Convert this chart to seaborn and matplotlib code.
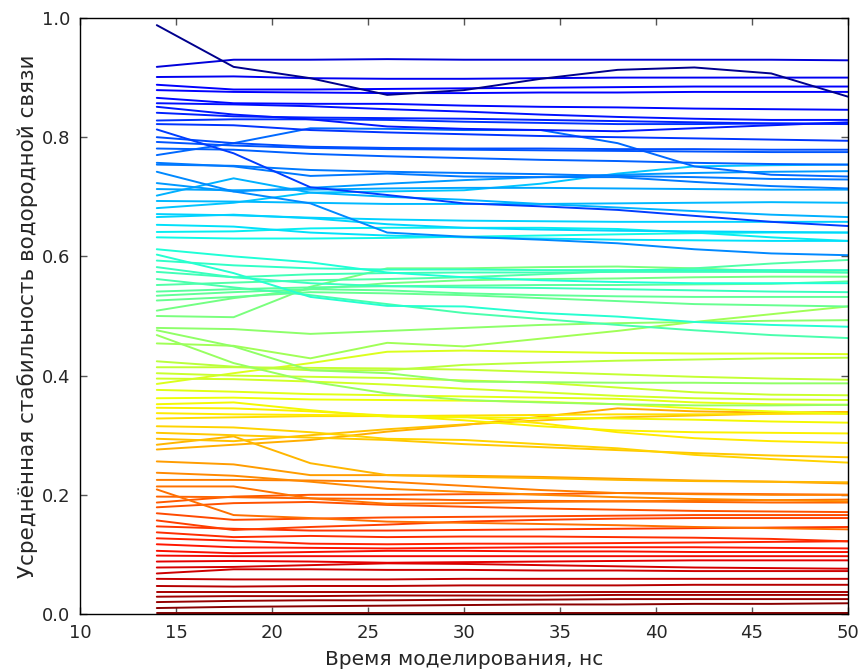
import numpy as np
import pandas as pd
import matplotlib
matplotlib.use("Agg")
import matplotlib.pyplot as plt
import seaborn as sns

# Simulation time points, ns
times = [14, 18, 22, 26, 30, 34, 38, 42, 46, 50]

# Averaged hydrogen-bond stability per bond, grouped by stability level
blue_lines = [
    [0.988, 0.918, 0.899, 0.871, 0.879, 0.898, 0.913, 0.917, 0.907, 0.868],
    [0.918, 0.930, 0.930, 0.931, 0.930, 0.930, 0.930, 0.930, 0.930, 0.929],
    [0.901, 0.902, 0.899, 0.898, 0.898, 0.899, 0.900, 0.900, 0.900, 0.900],
    [0.888, 0.880, 0.880, 0.881, 0.882, 0.883, 0.884, 0.885, 0.885, 0.885],
    [0.879, 0.876, 0.875, 0.874, 0.874, 0.875, 0.875, 0.876, 0.876, 0.876],
    [0.866, 0.857, 0.856, 0.856, 0.853, 0.851, 0.850, 0.848, 0.847, 0.846],
    [0.857, 0.855, 0.852, 0.847, 0.843, 0.838, 0.834, 0.831, 0.829, 0.829],
    [0.851, 0.838, 0.830, 0.818, 0.814, 0.812, 0.810, 0.815, 0.820, 0.825],
    [0.841, 0.835, 0.833, 0.832, 0.831, 0.829, 0.827, 0.825, 0.823, 0.822],
    [0.828, 0.830, 0.830, 0.829, 0.826, 0.824, 0.822, 0.822, 0.823, 0.823],
    [0.822, 0.820, 0.812, 0.808, 0.805, 0.802, 0.800, 0.798, 0.796, 0.794],
    [0.813, 0.773, 0.716, 0.703, 0.689, 0.684, 0.678, 0.668, 0.658, 0.651],
    [0.800, 0.790, 0.784, 0.782, 0.781, 0.781, 0.780, 0.780, 0.779, 0.779],
    [0.792, 0.786, 0.782, 0.780, 0.779, 0.778, 0.777, 0.776, 0.775, 0.775],
    [0.781, 0.779, 0.772, 0.768, 0.765, 0.762, 0.760, 0.757, 0.755, 0.754],
    [0.770, 0.790, 0.815, 0.814, 0.812, 0.812, 0.790, 0.751, 0.737, 0.734],
    [0.757, 0.751, 0.735, 0.739, 0.734, 0.733, 0.733, 0.725, 0.718, 0.714],
    [0.754, 0.752, 0.745, 0.742, 0.740, 0.738, 0.735, 0.733, 0.730, 0.729],
    [0.742, 0.709, 0.689, 0.640, 0.633, 0.628, 0.622, 0.612, 0.605, 0.602],
]

cyan_lines = [
    [0.723, 0.709, 0.715, 0.722, 0.728, 0.733, 0.737, 0.740, 0.742, 0.743],
    [0.713, 0.711, 0.712, 0.714, 0.715, 0.715, 0.714, 0.713, 0.712, 0.712],
    [0.702, 0.731, 0.707, 0.700, 0.695, 0.688, 0.682, 0.676, 0.670, 0.666],
    [0.693, 0.692, 0.690, 0.688, 0.688, 0.688, 0.689, 0.690, 0.691, 0.690],
    [0.681, 0.690, 0.707, 0.709, 0.711, 0.722, 0.739, 0.751, 0.753, 0.754],
    [0.671, 0.669, 0.665, 0.662, 0.660, 0.659, 0.658, 0.658, 0.658, 0.658],
    [0.666, 0.670, 0.664, 0.654, 0.648, 0.645, 0.643, 0.642, 0.641, 0.640],
    [0.653, 0.650, 0.640, 0.635, 0.632, 0.630, 0.628, 0.627, 0.626, 0.626],
    [0.641, 0.642, 0.647, 0.648, 0.648, 0.648, 0.646, 0.640, 0.632, 0.626],
    [0.632, 0.630, 0.630, 0.631, 0.633, 0.635, 0.637, 0.639, 0.640, 0.640],
]

teal_lines = [
    [0.612, 0.600, 0.590, 0.573, 0.565, 0.560, 0.557, 0.555, 0.555, 0.555],
    [0.603, 0.572, 0.532, 0.517, 0.516, 0.505, 0.499, 0.490, 0.485, 0.482],
    [0.593, 0.585, 0.580, 0.578, 0.578, 0.577, 0.577, 0.577, 0.577, 0.577],
    [0.582, 0.565, 0.555, 0.550, 0.548, 0.547, 0.545, 0.543, 0.541, 0.540],
    [0.574, 0.565, 0.570, 0.572, 0.573, 0.573, 0.574, 0.574, 0.574, 0.573],
    [0.562, 0.548, 0.535, 0.520, 0.505, 0.495, 0.485, 0.476, 0.468, 0.463],
    [0.552, 0.556, 0.560, 0.562, 0.565, 0.570, 0.575, 0.580, 0.588, 0.594],
    [0.541, 0.545, 0.548, 0.550, 0.551, 0.552, 0.552, 0.553, 0.554, 0.558],
    [0.534, 0.540, 0.545, 0.543, 0.538, 0.535, 0.533, 0.532, 0.532, 0.532],
    [0.526, 0.532, 0.540, 0.538, 0.535, 0.530, 0.525, 0.520, 0.518, 0.516],
    [0.509, 0.530, 0.545, 0.555, 0.560, 0.562, 0.563, 0.565, 0.566, 0.566],
    [0.500, 0.498, 0.549, 0.580, 0.580, 0.582, 0.583, 0.580, 0.575, 0.573],
]

green_lines = [
    [0.480, 0.478, 0.470, 0.475, 0.480, 0.485, 0.488, 0.490, 0.492, 0.493],
    [0.476, 0.449, 0.409, 0.404, 0.390, 0.389, 0.388, 0.388, 0.387, 0.387],
    [0.468, 0.421, 0.390, 0.370, 0.359, 0.355, 0.352, 0.350, 0.350, 0.351],
    [0.454, 0.450, 0.429, 0.455, 0.449, 0.462, 0.475, 0.490, 0.503, 0.516],
    [0.424, 0.415, 0.409, 0.409, 0.418, 0.422, 0.425, 0.427, 0.429, 0.430],
    [0.414, 0.414, 0.413, 0.412, 0.410, 0.406, 0.402, 0.398, 0.395, 0.393],
    [0.404, 0.400, 0.398, 0.396, 0.392, 0.388, 0.380, 0.372, 0.368, 0.367],
    [0.395, 0.394, 0.390, 0.385, 0.378, 0.372, 0.366, 0.362, 0.360, 0.359],
    [0.386, 0.404, 0.421, 0.440, 0.442, 0.440, 0.438, 0.437, 0.437, 0.436],
    [0.376, 0.373, 0.369, 0.367, 0.365, 0.363, 0.361, 0.355, 0.352, 0.351],
]

yellow_lines = [
    [0.362, 0.363, 0.360, 0.359, 0.358, 0.356, 0.352, 0.345, 0.340, 0.336],
    [0.352, 0.355, 0.342, 0.331, 0.330, 0.329, 0.328, 0.326, 0.323, 0.321],
    [0.346, 0.345, 0.340, 0.333, 0.325, 0.315, 0.308, 0.305, 0.304, 0.303],
    [0.337, 0.335, 0.334, 0.333, 0.331, 0.320, 0.305, 0.295, 0.290, 0.287],
    [0.328, 0.330, 0.332, 0.332, 0.333, 0.334, 0.335, 0.335, 0.336, 0.336],
    [0.315, 0.313, 0.305, 0.294, 0.292, 0.285, 0.278, 0.267, 0.260, 0.254],
    [0.304, 0.300, 0.296, 0.292, 0.285, 0.280, 0.275, 0.270, 0.266, 0.263],
    [0.294, 0.290, 0.300, 0.310, 0.318, 0.325, 0.330, 0.333, 0.336, 0.339],
    [0.284, 0.298, 0.253, 0.233, 0.230, 0.228, 0.225, 0.223, 0.222, 0.221],
    [0.276, 0.284, 0.292, 0.306, 0.317, 0.331, 0.345, 0.340, 0.338, 0.339],
]

orange_lines = [
    [0.256, 0.251, 0.233, 0.233, 0.232, 0.230, 0.227, 0.224, 0.222, 0.219],
    [0.237, 0.232, 0.222, 0.210, 0.205, 0.200, 0.196, 0.193, 0.191, 0.189],
    [0.225, 0.225, 0.224, 0.222, 0.215, 0.208, 0.203, 0.201, 0.200, 0.200],
    [0.214, 0.214, 0.194, 0.185, 0.186, 0.188, 0.189, 0.190, 0.191, 0.192],
    [0.209, 0.166, 0.161, 0.155, 0.153, 0.151, 0.149, 0.146, 0.144, 0.142],
    [0.197, 0.196, 0.194, 0.193, 0.191, 0.190, 0.189, 0.188, 0.187, 0.187],
    [0.187, 0.197, 0.200, 0.200, 0.201, 0.201, 0.203, 0.202, 0.201, 0.200],
    [0.179, 0.186, 0.188, 0.183, 0.180, 0.177, 0.175, 0.173, 0.172, 0.171],
    [0.169, 0.158, 0.160, 0.162, 0.163, 0.164, 0.165, 0.166, 0.166, 0.166],
    [0.157, 0.141, 0.146, 0.150, 0.155, 0.158, 0.160, 0.161, 0.161, 0.161],
    [0.147, 0.143, 0.140, 0.140, 0.141, 0.142, 0.143, 0.144, 0.145, 0.146],
    [0.137, 0.129, 0.131, 0.129, 0.130, 0.130, 0.129, 0.128, 0.126, 0.122],
    [0.127, 0.123, 0.118, 0.117, 0.118, 0.118, 0.119, 0.120, 0.121, 0.122],
    [0.117, 0.112, 0.111, 0.110, 0.111, 0.112, 0.112, 0.112, 0.111, 0.110],
]

red_lines = [
    [0.106, 0.102, 0.104, 0.106, 0.106, 0.105, 0.105, 0.104, 0.104, 0.104],
    [0.098, 0.097, 0.097, 0.097, 0.097, 0.097, 0.097, 0.097, 0.097, 0.097],
    [0.088, 0.089, 0.088, 0.086, 0.087, 0.088, 0.089, 0.090, 0.090, 0.090],
    [0.078, 0.079, 0.082, 0.085, 0.084, 0.082, 0.080, 0.078, 0.077, 0.076],
    [0.068, 0.075, 0.075, 0.074, 0.074, 0.073, 0.073, 0.072, 0.072, 0.072],
    [0.059, 0.058, 0.058, 0.058, 0.059, 0.059, 0.059, 0.059, 0.059, 0.059],
    [0.047, 0.046, 0.047, 0.047, 0.048, 0.048, 0.048, 0.049, 0.049, 0.049],
    [0.037, 0.037, 0.037, 0.037, 0.037, 0.037, 0.037, 0.037, 0.037, 0.037],
    [0.029, 0.030, 0.030, 0.031, 0.031, 0.031, 0.032, 0.032, 0.032, 0.032],
    [0.020, 0.022, 0.023, 0.023, 0.024, 0.024, 0.025, 0.025, 0.025, 0.025],
    [0.010, 0.012, 0.013, 0.014, 0.015, 0.016, 0.016, 0.017, 0.017, 0.018],
    [0.002, 0.002, 0.002, 0.002, 0.002, 0.002, 0.002, 0.002, 0.002, 0.002],
]

x_ticks = [10, 15, 20, 25, 30, 35, 40, 45, 50]
y_ticks = [0.0, 0.2, 0.4, 0.6, 0.8, 1.0]
x_label = "Время моделирования, нс"
y_label = "Усреднённая стабильность водородной связи"

# Long-form table: one row per (bond, time); colour keyed by initial stability
all_lines = blue_lines + cyan_lines + teal_lines + green_lines + yellow_lines + orange_lines + red_lines
rows = []
for bond_id, series in enumerate(all_lines):
    for t, v in zip(times, series):
        rows.append({"bond": bond_id, "time": t, "stability": v, "initial": series[0]})
df = pd.DataFrame(rows)

sns.set_style("ticks")
plt.rcParams["font.family"] = ["DejaVu Sans"]
plt.rcParams["font.size"] = 13

fig = plt.figure(figsize=(8.62, 6.72), dpi=100)
ax = fig.add_axes([80 / 862, 1 - 614 / 672, 768 / 862, 596 / 672])

sns.lineplot(
    data=df, x="time", y="stability", units="bond", estimator=None,
    hue="initial", palette="jet_r", hue_norm=(0, 1),
    linewidth=1.4, legend=False, ax=ax,
)

ax.set_xlim(10, 50)
ax.set_ylim(0, 1.0)
ax.set_xticks(x_ticks)
ax.set_yticks(y_ticks)
ax.set_yticklabels([f"{v:.1f}" for v in y_ticks])
ax.tick_params(direction="in", top=True, right=True, length=5, width=1,
               color="#555555", labelsize=13, pad=7)
for spine in ax.spines.values():
    spine.set_color("black")
    spine.set_linewidth(1.0)
ax.set_xlabel(x_label, fontsize=14.5, labelpad=6)
ax.set_ylabel(y_label, fontsize=15.5, labelpad=3)

fig.savefig("out.png", dpi=100)
